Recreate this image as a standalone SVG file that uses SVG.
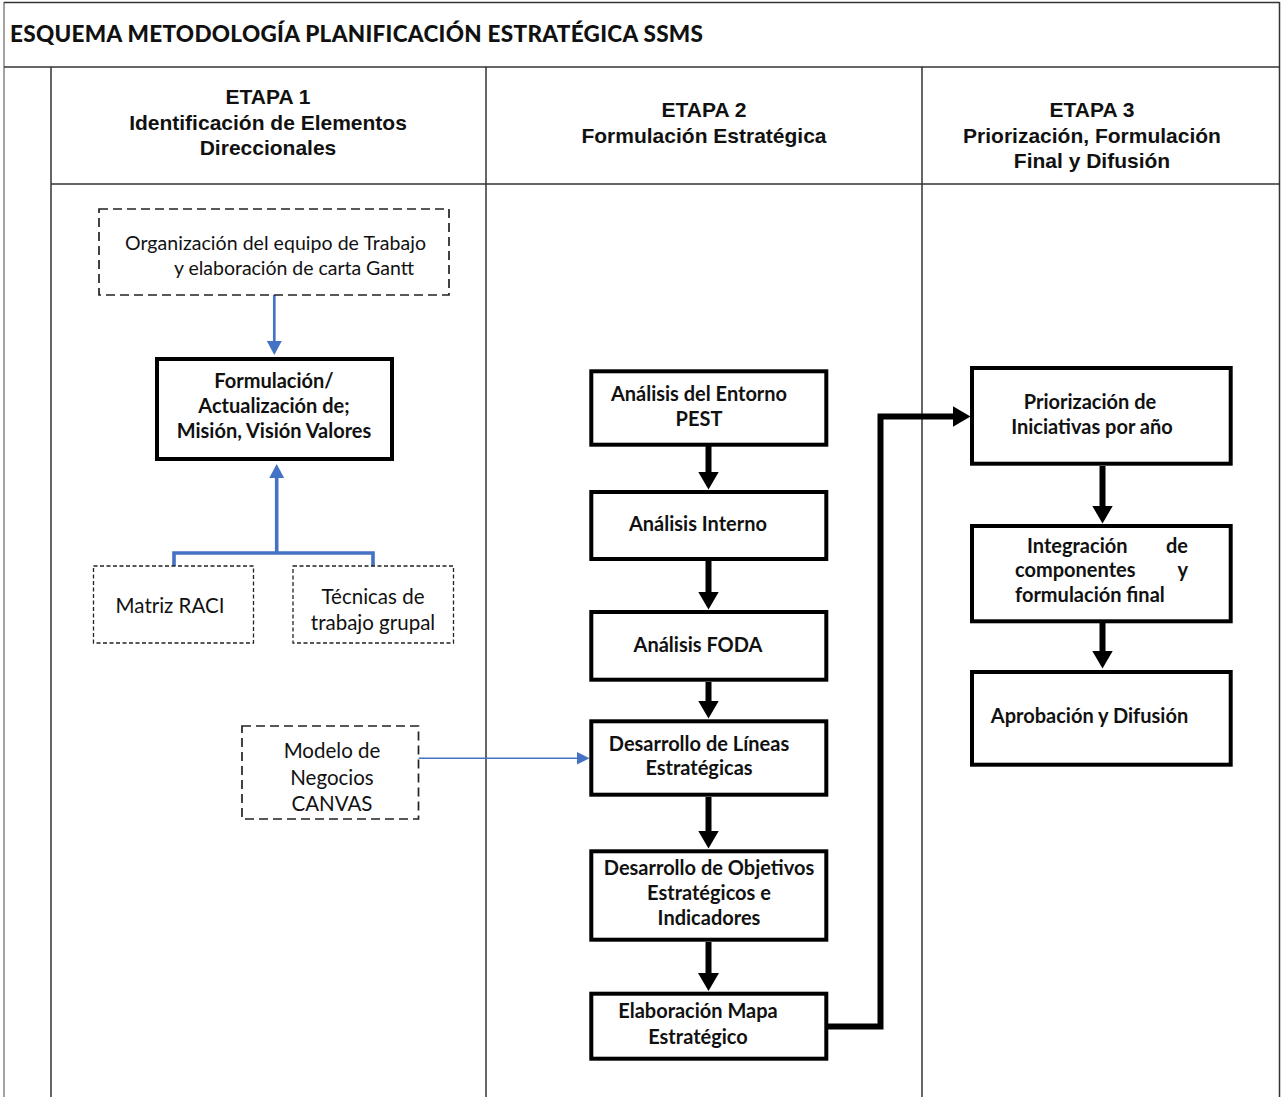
<svg xmlns="http://www.w3.org/2000/svg" width="1281" height="1097" viewBox="0 0 1281 1097">
  <style>
    .frame { fill: none; stroke: #333; stroke-width: 1.5; }
    .frame-light { fill: none; stroke: #666; stroke-width: 1.2; }
    .title { font-family: Lato, "Liberation Sans", sans-serif; font-weight: 900; font-size: 22.5px; fill: #111; }
    .hdr { font-family: "Liberation Sans", Arial, sans-serif; font-weight: bold; font-size: 21px; fill: #111; text-anchor: middle; }
    .box { fill: #fff; stroke: #000; stroke-width: 4; }
    .dash { fill: #fff; stroke: #222; stroke-width: 1.7; stroke-dasharray: 9 5; }
    .dot { fill: #fff; stroke: #222; stroke-width: 1.3; stroke-dasharray: 4 2.5; }
    .lbl { font-family: Lato, "Open Sans", sans-serif; font-size: 20.5px; fill: #111; }
    .lbl-sm { font-size: 19.5px; }
    .blbl { font-family: Lato, "Open Sans", sans-serif; font-weight: bold; font-size: 20px; fill: #111; }
    .mid { text-anchor: middle; }
    .end { text-anchor: end; }
    .blk { fill: none; stroke: #000; stroke-width: 6; }
    .blue { fill: none; stroke: #4472C4; }
  </style>
  <defs>
    <marker id="arrowBlack" viewBox="0 0 18 21" markerWidth="18" markerHeight="21" refX="2" refY="10.5" orient="auto" markerUnits="userSpaceOnUse">
      <path d="M0,0 L18,10.5 L0,21 z" fill="#000"/>
    </marker>
    <marker id="arrowBlue" viewBox="0 0 14 15" markerWidth="14" markerHeight="15" refX="2" refY="7.5" orient="auto" markerUnits="userSpaceOnUse">
      <path d="M0,0 L14,7.5 L0,15 z" fill="#4472C4"/>
    </marker>
    <marker id="arrowBlueThin" viewBox="0 0 13 13" markerWidth="13" markerHeight="13" refX="1" refY="6.5" orient="auto" markerUnits="userSpaceOnUse">
      <path d="M0,0 L13,6.5 L0,13 z" fill="#4472C4"/>
    </marker>
    <filter id="soft" x="-10%" y="-100%" width="120%" height="400%">
      <feDropShadow dx="0" dy="3" stdDeviation="2" flood-color="#000" flood-opacity="0.35"/>
    </filter>
  </defs>

  <rect width="1281" height="1097" fill="#fff"/>

  <!-- table frame: title row, stage headers and swimlanes -->
  <g id="frame">
    <line class="frame-light" x1="4" y1="2" x2="4" y2="1097"/>
    <line class="frame" x1="4" y1="2.5" x2="1279.5" y2="2.5"/>
    <line class="frame" x1="1279.5" y1="2" x2="1279.5" y2="1097"/>
    <line class="frame" x1="4" y1="67" x2="1279.5" y2="67"/>
    <line class="frame" x1="51" y1="67" x2="51" y2="1097"/>
    <line class="frame" x1="51" y1="184" x2="1279.5" y2="184"/>
    <line class="frame" x1="486" y1="67" x2="486" y2="1097"/>
    <line class="frame" x1="922" y1="67" x2="922" y2="1097"/>
    <text class="title" x="10" y="42" textLength="693">ESQUEMA METODOLOGÍA PLANIFICACIÓN ESTRATÉGICA SSMS</text>
  </g>

  <g id="header-etapa1">
    <text class="hdr" x="268" y="104">ETAPA 1</text>
    <text class="hdr" x="268" y="130">Identificación de Elementos</text>
    <text class="hdr" x="268" y="155">Direccionales</text>
  </g>
  <g id="header-etapa2">
    <text class="hdr" x="704" y="117">ETAPA 2</text>
    <text class="hdr" x="704" y="143">Formulación Estratégica</text>
  </g>
  <g id="header-etapa3">
    <text class="hdr" x="1092" y="117">ETAPA 3</text>
    <text class="hdr" x="1092" y="143">Priorización, Formulación</text>
    <text class="hdr" x="1092" y="168">Final y Difusión</text>
  </g>

  <!-- connectors -->
  <g id="connectors">
    <path class="blue" stroke-width="2.7" d="M274.3,295 V343" marker-end="url(#arrowBlue)"/>
    <path class="blue" stroke-width="3.6" d="M174,566 V553 H373 V566 M276.7,553 V476" marker-end="url(#arrowBlue)"/>
    <path class="blue" stroke="#6F96D8" stroke-width="1.4" d="M418.5,758.3 H577.5" marker-end="url(#arrowBlueThin)"/>
    <path class="blk" stroke-width="5" d="M394,407.5 H573.5" marker-end="url(#arrowBlack)" filter="url(#soft)"/>
    <path class="blk" d="M708.5,446 V473.5" marker-end="url(#arrowBlack)"/>
    <path class="blk" d="M708.5,561 V593.5" marker-end="url(#arrowBlack)"/>
    <path class="blk" d="M708.5,682 V702.5" marker-end="url(#arrowBlack)"/>
    <path class="blk" d="M708.5,797 V832.5" marker-end="url(#arrowBlack)"/>
    <path class="blk" d="M708.5,942 V975" marker-end="url(#arrowBlack)"/>
    <path class="blk" d="M827,1026.5 H880.5 V416.5 H954.5" marker-end="url(#arrowBlack)"/>
    <path class="blk" d="M1102.5,466 V507.5" marker-end="url(#arrowBlack)"/>
    <path class="blk" d="M1102.5,623 V652.5" marker-end="url(#arrowBlack)"/>
  </g>

  <!-- Etapa 1 nodes -->
  <g id="n-organizacion">
    <rect class="dash" x="99" y="209" width="350" height="86"/>
    <text class="lbl lbl-sm" x="125" y="250" textLength="301">Organización del equipo de Trabajo</text>
    <text class="lbl lbl-sm" x="174" y="275" textLength="240">y elaboración de carta Gantt</text>
  </g>
  <g id="n-formulacion">
    <rect class="box" x="157" y="359" width="235" height="100"/>
    <text class="blbl mid" x="274" y="388">Formulación/</text>
    <text class="blbl mid" x="274" y="413">Actualización de;</text>
    <text class="blbl mid" x="274" y="438">Misión, Visión Valores</text>
  </g>
  <g id="n-raci">
    <rect class="dot" x="93.5" y="566" width="160" height="77"/>
    <text class="lbl mid" x="170" y="613">Matriz RACI</text>
  </g>
  <g id="n-tecnicas">
    <rect class="dot" x="293" y="566" width="160.5" height="77"/>
    <text class="lbl mid" x="373" y="604">Técnicas de</text>
    <text class="lbl mid" x="373" y="630">trabajo grupal</text>
  </g>
  <g id="n-canvas">
    <rect class="dash" x="242" y="726" width="176.5" height="93"/>
    <text class="lbl mid" x="332" y="758">Modelo de</text>
    <text class="lbl mid" x="332" y="785">Negocios</text>
    <text class="lbl mid" x="332" y="811">CANVAS</text>
  </g>

  <!-- Etapa 2 nodes -->
  <g id="n-entorno">
    <rect class="box" x="591.3" y="371.3" width="235" height="73.4"/>
    <text class="blbl mid" x="699" y="401">Análisis del Entorno</text>
    <text class="blbl mid" x="699" y="426">PEST</text>
  </g>
  <g id="n-interno">
    <rect class="box" x="591.3" y="492" width="235" height="67"/>
    <text class="blbl mid" x="698" y="531">Análisis Interno</text>
  </g>
  <g id="n-foda">
    <rect class="box" x="591.3" y="612" width="235" height="67.7"/>
    <text class="blbl mid" x="698" y="652">Análisis FODA</text>
  </g>
  <g id="n-lineas">
    <rect class="box" x="591.3" y="721.3" width="235" height="73.4"/>
    <text class="blbl mid" x="699" y="751">Desarrollo de Líneas</text>
    <text class="blbl mid" x="699" y="775">Estratégicas</text>
  </g>
  <g id="n-objetivos">
    <rect class="box" x="591.3" y="851.3" width="235" height="88.4"/>
    <text class="blbl mid" x="709" y="875">Desarrollo de Objetivos</text>
    <text class="blbl mid" x="709" y="900">Estratégicos e</text>
    <text class="blbl mid" x="709" y="925">Indicadores</text>
  </g>
  <g id="n-mapa">
    <rect class="box" x="591.3" y="993.7" width="235" height="65"/>
    <text class="blbl mid" x="698" y="1018">Elaboración Mapa</text>
    <text class="blbl mid" x="698" y="1044">Estratégico</text>
  </g>

  <!-- Etapa 3 nodes -->
  <g id="n-priorizacion">
    <rect class="box" x="972" y="368" width="258.7" height="95.7"/>
    <text class="blbl mid" x="1090" y="409">Priorización de</text>
    <text class="blbl mid" x="1092" y="434">Iniciativas por año</text>
  </g>
  <g id="n-integracion">
    <rect class="box" x="972" y="526" width="258.7" height="95.3"/>
    <text class="blbl" x="1027" y="553">Integración</text>
    <text class="blbl end" x="1188" y="553">de</text>
    <text class="blbl" x="1015" y="577">componentes</text>
    <text class="blbl end" x="1188" y="577">y</text>
    <text class="blbl" x="1015" y="602">formulación final</text>
  </g>
  <g id="n-aprobacion">
    <rect class="box" x="972" y="672" width="258.7" height="92.7"/>
    <text class="blbl mid" x="1089.5" y="723">Aprobación y Difusión</text>
  </g>
</svg>
